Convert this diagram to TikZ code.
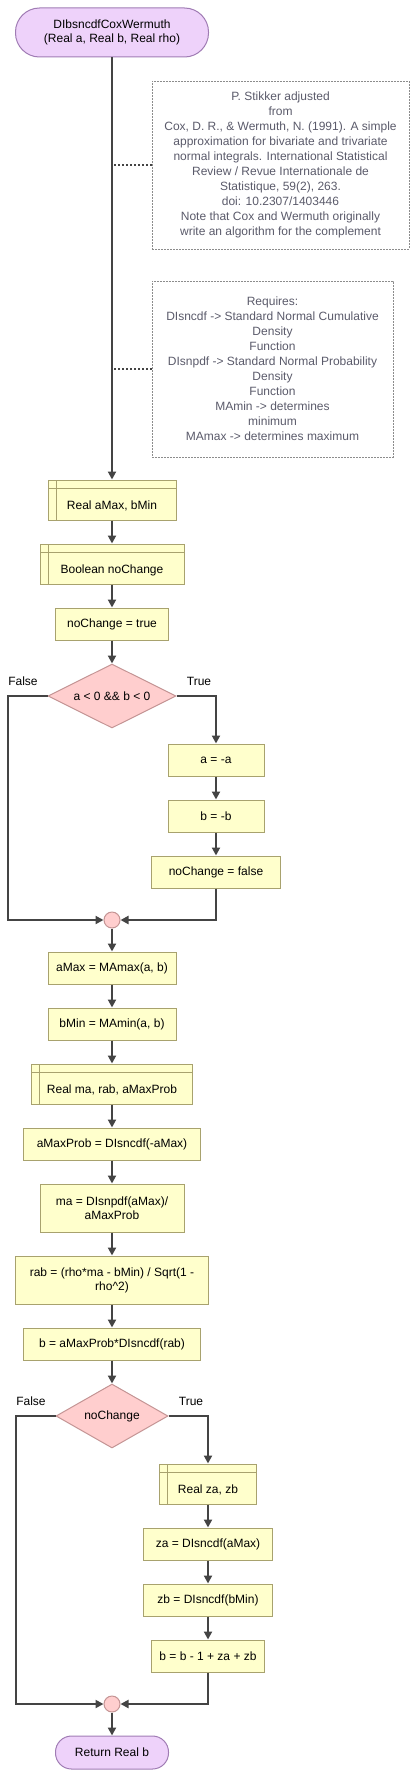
\documentclass[tikz,border=0pt]{standalone}
\usepackage{fontspec}
\setmainfont{Liberation Sans}
\usetikzlibrary{arrows.meta, shapes.geometric}
\definecolor{boxfill}{HTML}{FFFFCC}
\definecolor{boxline}{HTML}{A8A26E}
\definecolor{iffill}{HTML}{FFCECE}
\definecolor{ifline}{HTML}{C49494}
\definecolor{termfill}{HTML}{EED2FA}
\definecolor{termline}{HTML}{A07CB4}
\definecolor{flowline}{HTML}{444444}
\definecolor{notetext}{HTML}{5A5A6A}
\definecolor{noteline}{HTML}{8C8C8C}

\begin{document}
\begin{tikzpicture}[x=1pt, y=-1pt,
  base/.style={font=\fontsize{12}{14}\selectfont, align=center, inner sep=0pt},
  term/.style={base, draw=termline, fill=termfill, line width=1pt, rounded corners=#1},
  proc/.style={base, draw=boxline, fill=boxfill, line width=1pt, minimum height=32pt},
  decl/.style={proc, text height=29pt, text depth=11pt,
    path picture={
      \draw[boxline, line width=1pt] ([xshift=8pt]path picture bounding box.north west) -- ([xshift=8pt]path picture bounding box.south west);
      \draw[boxline, line width=1pt] ([yshift=-8pt]path picture bounding box.north west) -- ([yshift=-8pt]path picture bounding box.north east);
    }},
  ifnode/.style={base, diamond, aspect=2, draw=ifline, fill=iffill, line width=1pt, minimum height=64pt},
  merge/.style={circle, draw=ifline, fill=iffill, line width=1pt, minimum size=16pt, inner sep=0pt},
  note/.style={base, font=\fontsize{12}{15}\selectfont, text=notetext, draw=noteline, dash pattern=on 2pt off 1pt, line width=0.8pt},
  lbl/.style={font=\fontsize{12}{14}\selectfont, inner sep=0pt},
  flow/.style={draw=flowline, line width=2pt, -{Triangle[width=8pt,length=8pt]}},
  link/.style={draw=flowline, line width=1.5pt, dash pattern=on 2pt off 2pt}]
  \useasboundingbox (0,0) rectangle (417,1777);

  % Start
  \node[term=24pt, minimum width=193pt, minimum height=49pt] (start) at (112,32.5) {DIbsncdfCoxWermuth\\(Real a, Real b, Real rho)};

  % Notes
  \node[note, minimum width=257pt, minimum height=168pt] (note1) at (280.5,165) {P. Stikker adjusted\\from\\Cox, D. R., \& Wermuth, N. (1991). A simple\\approximation for bivariate and trivariate\\normal integrals. International Statistical\\Review / Revue Internationale de\\Statistique, 59(2), 263.\\doi: 10.2307/1403446\\Note that Cox and Wermuth originally\\write an algorithm for the complement};
  \node[note, minimum width=241pt, minimum height=176pt] (note2) at (272.5,369) {Requires:\\DIsncdf -> Standard Normal Cumulative\\Density\\Function\\DIsnpdf -> Standard Normal Probability\\Density\\Function\\MAmin -> determines\\minimum\\MAmax -> determines maximum};

  % Declarations and first test
  \node[decl, minimum width=128pt] (decA) at (112,500) {Real aMax, bMin};
  \node[decl, minimum width=144pt] (decB) at (112,564) {Boolean noChange};
  \node[proc, minimum width=113pt] (initNC) at (112,624) {noChange = true};
  \node[ifnode, minimum width=128pt] (if1) at (112,696) {a < 0 \&\& b < 0};
  \node[lbl] (if1F) at (23,681) {False};
  \node[lbl] (if1T) at (199,681) {True};
  \node[proc, minimum width=96pt] (negA) at (216,760) {a = -a};
  \node[proc, minimum width=96pt] (negB) at (216,816) {b = -b};
  \node[proc, minimum width=129pt] (setNC) at (216,872) {noChange = false};
  \node[merge] (merge1) at (112,920) {};
  \coordinate (lft1) at (8,920);

  % Main computation
  \node[proc, minimum width=128pt] (setAMax) at (112,968) {aMax = MAmax(a, b)};
  \node[proc, minimum width=128pt] (setBMin) at (112,1024) {bMin = MAmin(a, b)};
  \node[decl, minimum width=161pt] (decC) at (112,1084) {Real ma, rab, aMaxProb};
  \node[proc, minimum width=177pt] (setProb) at (112,1144) {aMaxProb = DIsncdf(-aMax)};
  \node[proc, minimum width=144pt, minimum height=48pt] (setMa) at (112,1208) {ma = DIsnpdf(aMax)/\\aMaxProb};
  \node[proc, minimum width=193pt, minimum height=48pt] (setRab) at (112,1280) {rab = (rho*ma - bMin) / Sqrt(1 -\\rho\textasciicircum 2)};
  \node[proc, minimum width=177pt] (setB) at (112,1344) {b = aMaxProb*DIsncdf(rab)};

  % Second test
  \node[ifnode, minimum width=112pt] (if2) at (112,1416) {noChange};
  \node[lbl] (if2F) at (31,1401) {False};
  \node[lbl] (if2T) at (191,1401) {True};
  \node[decl, minimum width=97pt] (decD) at (208,1484) {Real za, zb};
  \node[proc, minimum width=129pt] (setZa) at (208,1544) {za = DIsncdf(aMax)};
  \node[proc, minimum width=129pt] (setZb) at (208,1600) {zb = DIsncdf(bMin)};
  \node[proc, minimum width=113pt] (setBB) at (208,1656) {b = b - 1 + za + zb};
  \node[merge] (merge2) at (112,1704) {};
  \coordinate (lft2) at (16,1704);

  % End
  \node[term=16pt, minimum width=113pt, minimum height=33pt] (stop) at (112,1752.5) {Return Real b};

  % Connectors
  \draw[link] (note1.west) -- (note1.west -| start.south);
  \draw[link] (note2.west) -- (note2.west -| start.south);
  \draw[flow] (start.south) -- (decA.north);
  \draw[flow] (decA) -- (decB);
  \draw[flow] (decB) -- (initNC);
  \draw[flow] (initNC) -- (if1);
  \draw[flow] (if1.east) -| (negA.north);
  \draw[flow] (negA) -- (negB);
  \draw[flow] (negB) -- (setNC);
  \draw[flow] (setNC.south) |- (merge1.east);
  \draw[flow] (if1.west) -| (lft1) -- (merge1.west);
  \draw[flow] (merge1) -- (setAMax);
  \draw[flow] (setAMax) -- (setBMin);
  \draw[flow] (setBMin) -- (decC);
  \draw[flow] (decC) -- (setProb);
  \draw[flow] (setProb) -- (setMa);
  \draw[flow] (setMa) -- (setRab);
  \draw[flow] (setRab) -- (setB);
  \draw[flow] (setB) -- (if2);
  \draw[flow] (if2.east) -| (decD.north);
  \draw[flow] (decD) -- (setZa);
  \draw[flow] (setZa) -- (setZb);
  \draw[flow] (setZb) -- (setBB);
  \draw[flow] (setBB.south) |- (merge2.east);
  \draw[flow] (if2.west) -| (lft2) -- (merge2.west);
  \draw[flow] (merge2) -- (stop);
\end{tikzpicture}
\end{document}
